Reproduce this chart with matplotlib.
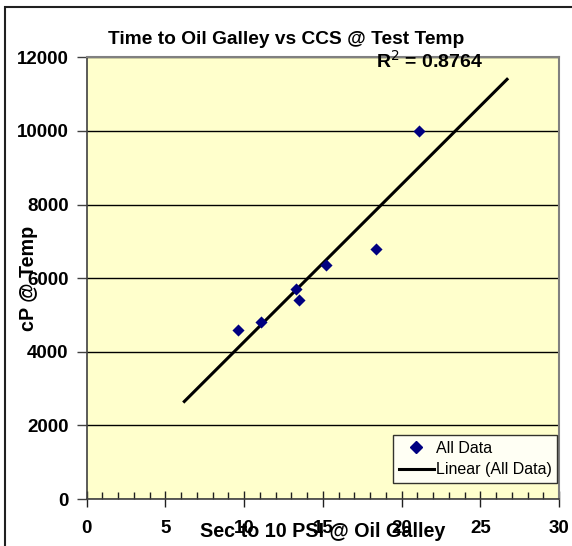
import numpy as np
import matplotlib
matplotlib.use("Agg")
import matplotlib.pyplot as plt
from matplotlib.lines import Line2D
from matplotlib.patches import Rectangle

# Data
sec_to_10psi = [9.6, 11.1, 13.3, 13.5, 15.2, 18.4, 21.1]
cp_at_temp = [4600, 4800, 5700, 5400, 6350, 6800, 10000]
r_squared = 0.8764
trend_backward = 3.4
trend_forward = 5.6
x_ticks = [0, 5, 10, 15, 20, 25, 30]
y_ticks = [0, 2000, 4000, 6000, 8000, 10000, 12000]
title = "Time to Oil Galley vs CCS @ Test Temp"
x_label = "Sec to 10 PSI @ Oil Galley"
y_label = "cP @ Temp"

plt.rcParams['font.family'] = ['Liberation Sans', 'DejaVu Sans']

fig = plt.figure(figsize=(5.72, 5.46), dpi=100)
fig.patch.set_facecolor('white')
ax = fig.add_axes([86.7/572, 1-499/546, (559-86.7)/572, (499-57.3)/546])
ax.set_facecolor('#FFFFCC')

# outer chart border
fig.patches.append(Rectangle((5/572, -0.05), 1.1, 1-7/546+0.05, transform=fig.transFigure,
                             fill=False, edgecolor='#202020', linewidth=1.5, zorder=0))

ax.set_xlim(0, 30)
ax.set_ylim(0, 12000)
ax.set_yticks(y_ticks)
ax.set_xticks(x_ticks)
ax.set_xticks(np.arange(0, 31, 1), minor=True)
ax.grid(axis='y', color='black', linewidth=1.0)
ax.set_axisbelow(True)

# linear trendline fitted to the data
coef = np.polyfit(sec_to_10psi, cp_at_temp, 1)
tx = np.array([min(sec_to_10psi) - trend_backward, max(sec_to_10psi) + trend_forward])
ax.plot(tx, np.polyval(coef, tx), color='black', linewidth=2.2, zorder=3)
ax.scatter(sec_to_10psi, cp_at_temp, marker='D', s=38, color='#000080', zorder=4, linewidths=0)

for s in ['top', 'right']:
    ax.spines[s].set_color('#808080')
    ax.spines[s].set_linewidth(1.5)
ax.spines['left'].set_color('#404040')
ax.spines['left'].set_linewidth(1.2)
ax.spines['bottom'].set_color('#404040')
ax.spines['bottom'].set_linewidth(1.2)

ax.tick_params(axis='y', which='major', direction='out', length=7, width=1, color='#404040',
               labelsize=13.5, pad=6)
ax.tick_params(axis='x', which='major', direction='inout', length=12, width=1, color='#202020',
               labelsize=13.5, pad=9)
ax.tick_params(axis='x', which='minor', direction='in', length=5, width=1, color='#202020')
for lab in ax.get_xticklabels() + ax.get_yticklabels():
    lab.set_fontweight('bold')

ax.set_xlabel(x_label, fontsize=14.2, fontweight='bold', labelpad=-11)
ax.set_ylabel(y_label, fontsize=14.2, fontweight='bold', labelpad=-15)
fig.text(0.5, 1-39/546, title, ha='center', va='center', fontsize=13.8, fontweight='bold')
fig.text(430/572, 1-61/546, f"R$^2$ = {r_squared:.4f}", ha='center', va='center',
         fontsize=14, fontweight='bold')

handles = [Line2D([], [], marker='D', linestyle='none', color='#000080', markersize=6),
           Line2D([], [], color='black', linewidth=2.2)]
leg = ax.legend(handles, ['All Data', 'Linear (All Data)'], loc='lower right',
                bbox_to_anchor=(557/572, 1-483/546), bbox_transform=fig.transFigure,
                fontsize=11.5, frameon=True, fancybox=False, edgecolor='black',
                handlelength=2.2, handletextpad=0.1, borderpad=0.35, labelspacing=0.4,
                borderaxespad=0)
leg.get_frame().set_linewidth(1.0)

fig.savefig('out.png', dpi=100)
